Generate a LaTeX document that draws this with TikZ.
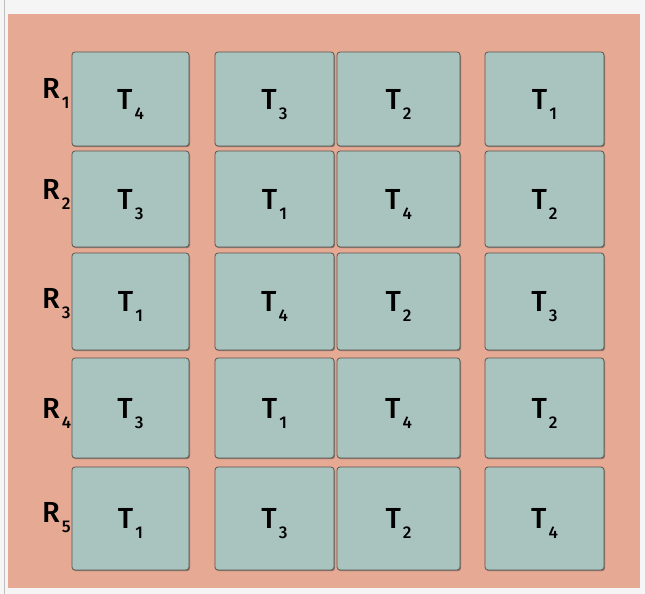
\documentclass[tikz,border=0pt]{standalone}
\usepackage{fontspec}
\setmainfont{PT Sans}
\usetikzlibrary{shadows}
\definecolor{salmon}{HTML}{E6A993}
\definecolor{sage}{HTML}{A9C4BE}
\definecolor{edge}{HTML}{5A5550}
\newfontfamily\labfont{Fira Sans Medium}
\newcommand\tsub[2]{#1\kern2pt\raisebox{-10pt}{\fontsize{17}{17}\selectfont#2}}

\begin{document}
\begin{tikzpicture}[x=1pt,y=-1pt,
  tile/.style={draw=edge,line width=.8pt,fill=sage,rounded corners=3pt,inner sep=0pt,text height=26pt,text depth=6pt,font=\labfont\fontsize{29}{34}\selectfont,drop shadow={shadow xshift=1pt,shadow yshift=-1.2pt,opacity=.6,fill=edge}},
  rowlab/.style={anchor=base west,inner sep=0pt,font=\labfont\fontsize{29}{34}\selectfont}]
\useasboundingbox (0,0) rectangle (645,594);
\fill[black!4] (0,0) rectangle (645,594);\draw[black!25,line width=1pt] (4,0)--(4,594);
\fill[salmon] (8,14) rectangle (640,588);
% rows: centre, height, label baseline, then the four treatments
\foreach \cy/\h/\rb/\ta/\tb/\tc/\td [count=\r] in {99/94/98/4/3/2/1,199/96/199/3/1/4/2,301.5/97/308/1/4/2/3,408/100/418/3/1/4/2,518.5/103/522/1/3/2/4}{
  \node[rowlab] (r\r) at (42,\rb) {\tsub R\r};
  \foreach \cx/\w/\t [count=\k] in {130.5/117/\ta,274.5/119/\tb,398.5/123/\tc,544.5/119/\td}
    \node[tile,minimum width=\w,minimum height=\h] (t\r\k) at (\cx,\cy) {\tsub T\t};
}
\end{tikzpicture}
\end{document}
